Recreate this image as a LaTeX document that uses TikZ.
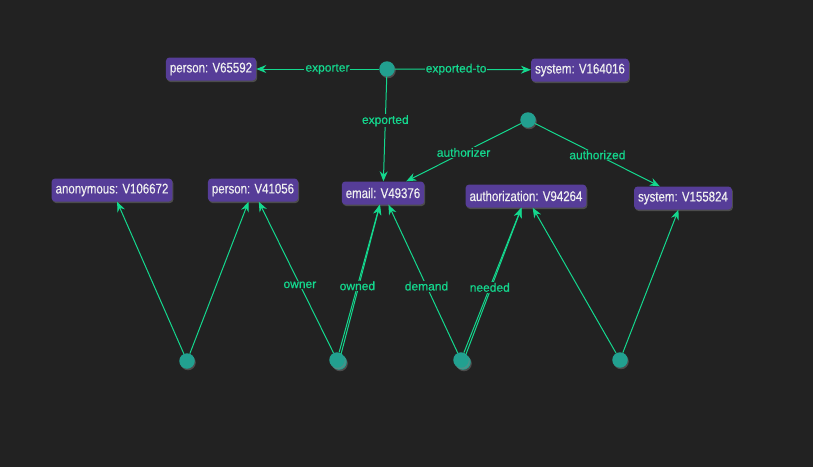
\documentclass[tikz,border=0pt]{standalone}
\usepackage{fontspec}
\setmainfont{Liberation Sans}
\newfontfamily\boxfont{Liberation Sans}[FakeStretch=0.82,FakeBold=0.3]
\newfontfamily\lblfont{Liberation Sans}[FakeBold=0.6]
\usetikzlibrary{arrows.meta,shadows}
\definecolor{bg}{HTML}{222222}
\definecolor{boxfill}{HTML}{563D98}
\definecolor{edgecol}{HTML}{14D88E}
\definecolor{hubfill}{HTML}{22A090}
\definecolor{boxtext}{HTML}{F0F0F0}
\begin{document}
\begin{tikzpicture}[x=1pt, y=-1pt, >={Stealth[length=10pt,width=8pt]},
    vbox/.style={fill=boxfill, text=boxtext, rounded corners=3.5pt, inner xsep=4pt,
        minimum height=23pt, font=\boxfont\fontsize{14}{15}\selectfont,
        drop shadow={shadow xshift=1pt, shadow yshift=-1.5pt, opacity=0.45}},
    hub/.style={circle, fill=hubfill, minimum size=15.5pt, inner sep=0pt,
        drop shadow={shadow xshift=1pt, shadow yshift=-1.5pt, opacity=0.45}},
    lbl/.style={fill=bg, text=edgecol, inner sep=1pt, font=\lblfont\fontsize{12}{13}\selectfont},
    link/.style={->, draw=edgecol, line width=1pt}]

    % background and size
    \fill[bg] (0,0) rectangle (813,467);
    \useasboundingbox (0,0) rectangle (813,467);

    % vertices
    \node[vbox] (p65592) at (211,69) {person: V65592};
    \node[vbox] (s164016) at (580,70) {system: V164016};
    \node[vbox] (a106672) at (112,190) {anonymous: V106672};
    \node[vbox] (p41056) at (253,190) {person: V41056};
    \node[vbox] (e49376) at (383,193) {email: V49376};
    \node[vbox] (au94264) at (526,196) {authorization: V94264};
    \node[vbox] (s155824) at (683,198) {system: V155824};

    % hubs
    \node[hub] (hexp) at (387,69) {};
    \node[hub] (hauth) at (528,120) {};
    \node[hub] (hanon) at (187,361) {};
    \node[hub] (hownb) at (339,362) {};
    \node[hub] (hown) at (337,360) {};
    \node[hub] (hdemb) at (463,362) {};
    \node[hub] (hdem) at (461,360) {};
    \node[hub] (hsys) at (620,360) {};

    % top edges
    \draw[link] (hexp) -- node[lbl, pos=0.42] {exporter} (p65592);
    \draw[link] (hexp) -- node[lbl, pos=0.45] {exported-to} (s164016);
    \draw[link] (hexp) -- node[lbl, pos=0.42] {exported} (e49376);
    \draw[link] (hauth) -- node[lbl] {authorizer} (e49376);
    \draw[link] (hauth) -- node[lbl] {authorized} (s155824);

    % bottom edges
    \draw[link] (hanon) -- (a106672);
    \draw[link] (hanon) -- (p41056);
    \draw[link] (hownb) -- (e49376);
    \draw[link] (hown) -- node[lbl, pos=0.45] {owner} (p41056);
    \draw[link] (hown) -- node[lbl, pos=0.45] {owned} (e49376);
    \draw[link] (hdemb) -- (au94264);
    \draw[link] (hdem) -- node[lbl, pos=0.45] {demand} (e49376);
    \draw[link] (hdem) -- node[lbl, pos=0.45] {needed} (au94264);
    \draw[link] (hsys) -- (au94264);
    \draw[link] (hsys) -- (s155824);

\end{tikzpicture}
\end{document}
